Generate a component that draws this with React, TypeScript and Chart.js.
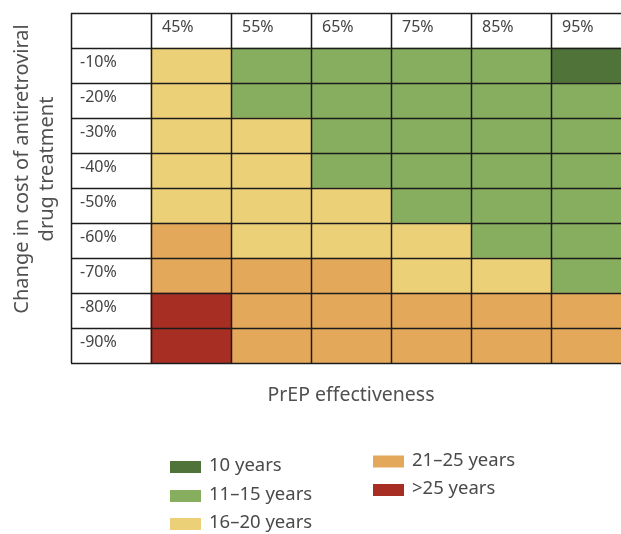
import React, { useEffect, useRef } from 'react';
import { Chart, registerables } from 'chart.js';

Chart.register(...registerables);

// ---- data ----
const columnLabels = ['45%', '55%', '65%', '75%', '85%', '95%'];
const rowLabels = ['-10%', '-20%', '-30%', '-40%', '-50%', '-60%', '-70%', '-80%', '-90%'];
const legendLabels = ['10 years', '11–15 years', '16–20 years', '21–25 years', '>25 years'];
const legendColors = ['#50733A', '#87AE5E', '#ECD078', '#E3A85A', '#A62E23'];

// category index (into legendLabels) for each cell, one array per column (rows -10% .. -90%)
const col45 = [2, 2, 2, 2, 2, 3, 3, 4, 4];
const col55 = [1, 1, 2, 2, 2, 2, 3, 3, 3];
const col65 = [1, 1, 1, 1, 2, 2, 3, 3, 3];
const col75 = [1, 1, 1, 1, 1, 2, 2, 3, 3];
const col85 = [1, 1, 1, 1, 1, 1, 2, 3, 3];
const col95 = [0, 1, 1, 1, 1, 1, 1, 3, 3];
const columns = [col45, col55, col65, col75, col85, col95];

const xTitle = 'PrEP effectiveness';
const yTitleLines = ['Change in cost of antiretroviral', 'drug treatment'];

const FONT = '"Noto Sans", "Open Sans", sans-serif';
const X_MAX = 6.875; // visible portion of the table (label column + 6 data columns, last one clipped)

const tablePlugin = {
  id: 'tableDecor',
  afterDatasetsDraw(chart: any) {
    const { ctx, chartArea, scales } = chart;
    const xs = scales.x;
    const ys = scales.y;
    const nRows = rowLabels.length + 1;
    const rowH = chartArea.height / nRows;
    const top = chartArea.top;
    const bottom = chartArea.bottom;
    ctx.save();
    // grid lines
    ctx.strokeStyle = '#1c1c1c';
    ctx.lineWidth = 1.5;
    ctx.beginPath();
    for (let i = 0; i <= columnLabels.length; i++) {
      const px = Math.round(xs.getPixelForValue(i)) + 0.5;
      ctx.moveTo(px, top);
      ctx.lineTo(px, bottom);
    }
    const left = xs.getPixelForValue(0);
    const right = chartArea.right;
    for (let j = 0; j <= nRows; j++) {
      const center = ys.getPixelForValue(Math.min(j, nRows - 1));
      const py = Math.round(j < nRows ? center - rowH / 2 : center + rowH / 2) + 0.5;
      ctx.moveTo(left, py);
      ctx.lineTo(right, py);
    }
    ctx.stroke();

    // header labels
    ctx.fillStyle = '#444444';
    ctx.font = `16px ${FONT}`;
    ctx.textBaseline = 'middle';
    ctx.textAlign = 'left';
    const headerY = ys.getPixelForValue(0) - 3;
    columnLabels.forEach((lab, i) => {
      ctx.fillText(lab, xs.getPixelForValue(i + 1) + 11, headerY);
    });
    // row labels
    rowLabels.forEach((lab, j) => {
      ctx.fillText(lab, left + 9, ys.getPixelForValue(j + 1) - 3);
    });

    // x title
    ctx.fillStyle = '#505050';
    ctx.font = `19.5px ${FONT}`;
    ctx.textAlign = 'center';
    const tableMid = (xs.getPixelForValue(0) + xs.getPixelForValue(columnLabels.length + 1)) / 2;
    ctx.fillText(xTitle, tableMid, bottom + 32);

    // y title
    ctx.save();
    ctx.font = `20px ${FONT}`;
    ctx.translate(0, 169);
    ctx.rotate(-Math.PI / 2);
    ctx.fillText(yTitleLines[0], 0, 22);
    ctx.fillText(yTitleLines[1], 0, 47);
    ctx.restore();

    // legend (two columns)
    const legendPos = [
      { x: 170, y: 467 },
      { x: 170, y: 496 },
      { x: 170, y: 524 },
      { x: 373, y: 461.5 },
      { x: 373, y: 490 },
    ];
    ctx.font = `18.5px ${FONT}`;
    ctx.textAlign = 'left';
    legendLabels.forEach((lab, k) => {
      const p = legendPos[k];
      ctx.fillStyle = legendColors[k];
      ctx.fillRect(p.x, p.y - 6, 31, 12);
      ctx.fillStyle = '#4a4a4a';
      ctx.fillText(lab, p.x + 39, p.y - 1);
    });
    ctx.restore();
  },
};

export default function App() {
  const canvasRef = useRef<HTMLCanvasElement | null>(null);

  useEffect(() => {
    if (!canvasRef.current) return;
    const yLabels = ['', ...rowLabels];
    const datasets = columns.map((col, i) => ({
      label: columnLabels[i],
      data: [null, ...col.map(() => [i + 1, i + 2])] as any,
      backgroundColor: [null, ...col.map((c) => legendColors[c])] as any,
      borderWidth: 0,
      barPercentage: 1,
      categoryPercentage: 1,
      grouped: false,
    }));
    const chart = new Chart(canvasRef.current, {
      type: 'bar',
      data: { labels: yLabels, datasets },
      options: {
        indexAxis: 'y',
        animation: false,
        responsive: false,
        maintainAspectRatio: false,
        devicePixelRatio: 1,
        layout: { padding: { left: 71, top: 13, right: 0, bottom: 171 } },
        scales: {
          x: { type: 'linear', min: 0, max: X_MAX, display: false },
          y: { type: 'category', display: false, offset: true },
        },
        plugins: {
          legend: { display: false },
          tooltip: { enabled: false },
          title: { display: false },
        },
      },
      plugins: [tablePlugin],
    });
    return () => chart.destroy();
  }, []);

  return (
    <div style={{ position: 'fixed', left: 0, top: 0, width: 621, height: 534, background: '#fff' }}>
      <canvas ref={canvasRef} width={621} height={534} />
    </div>
  );
}
